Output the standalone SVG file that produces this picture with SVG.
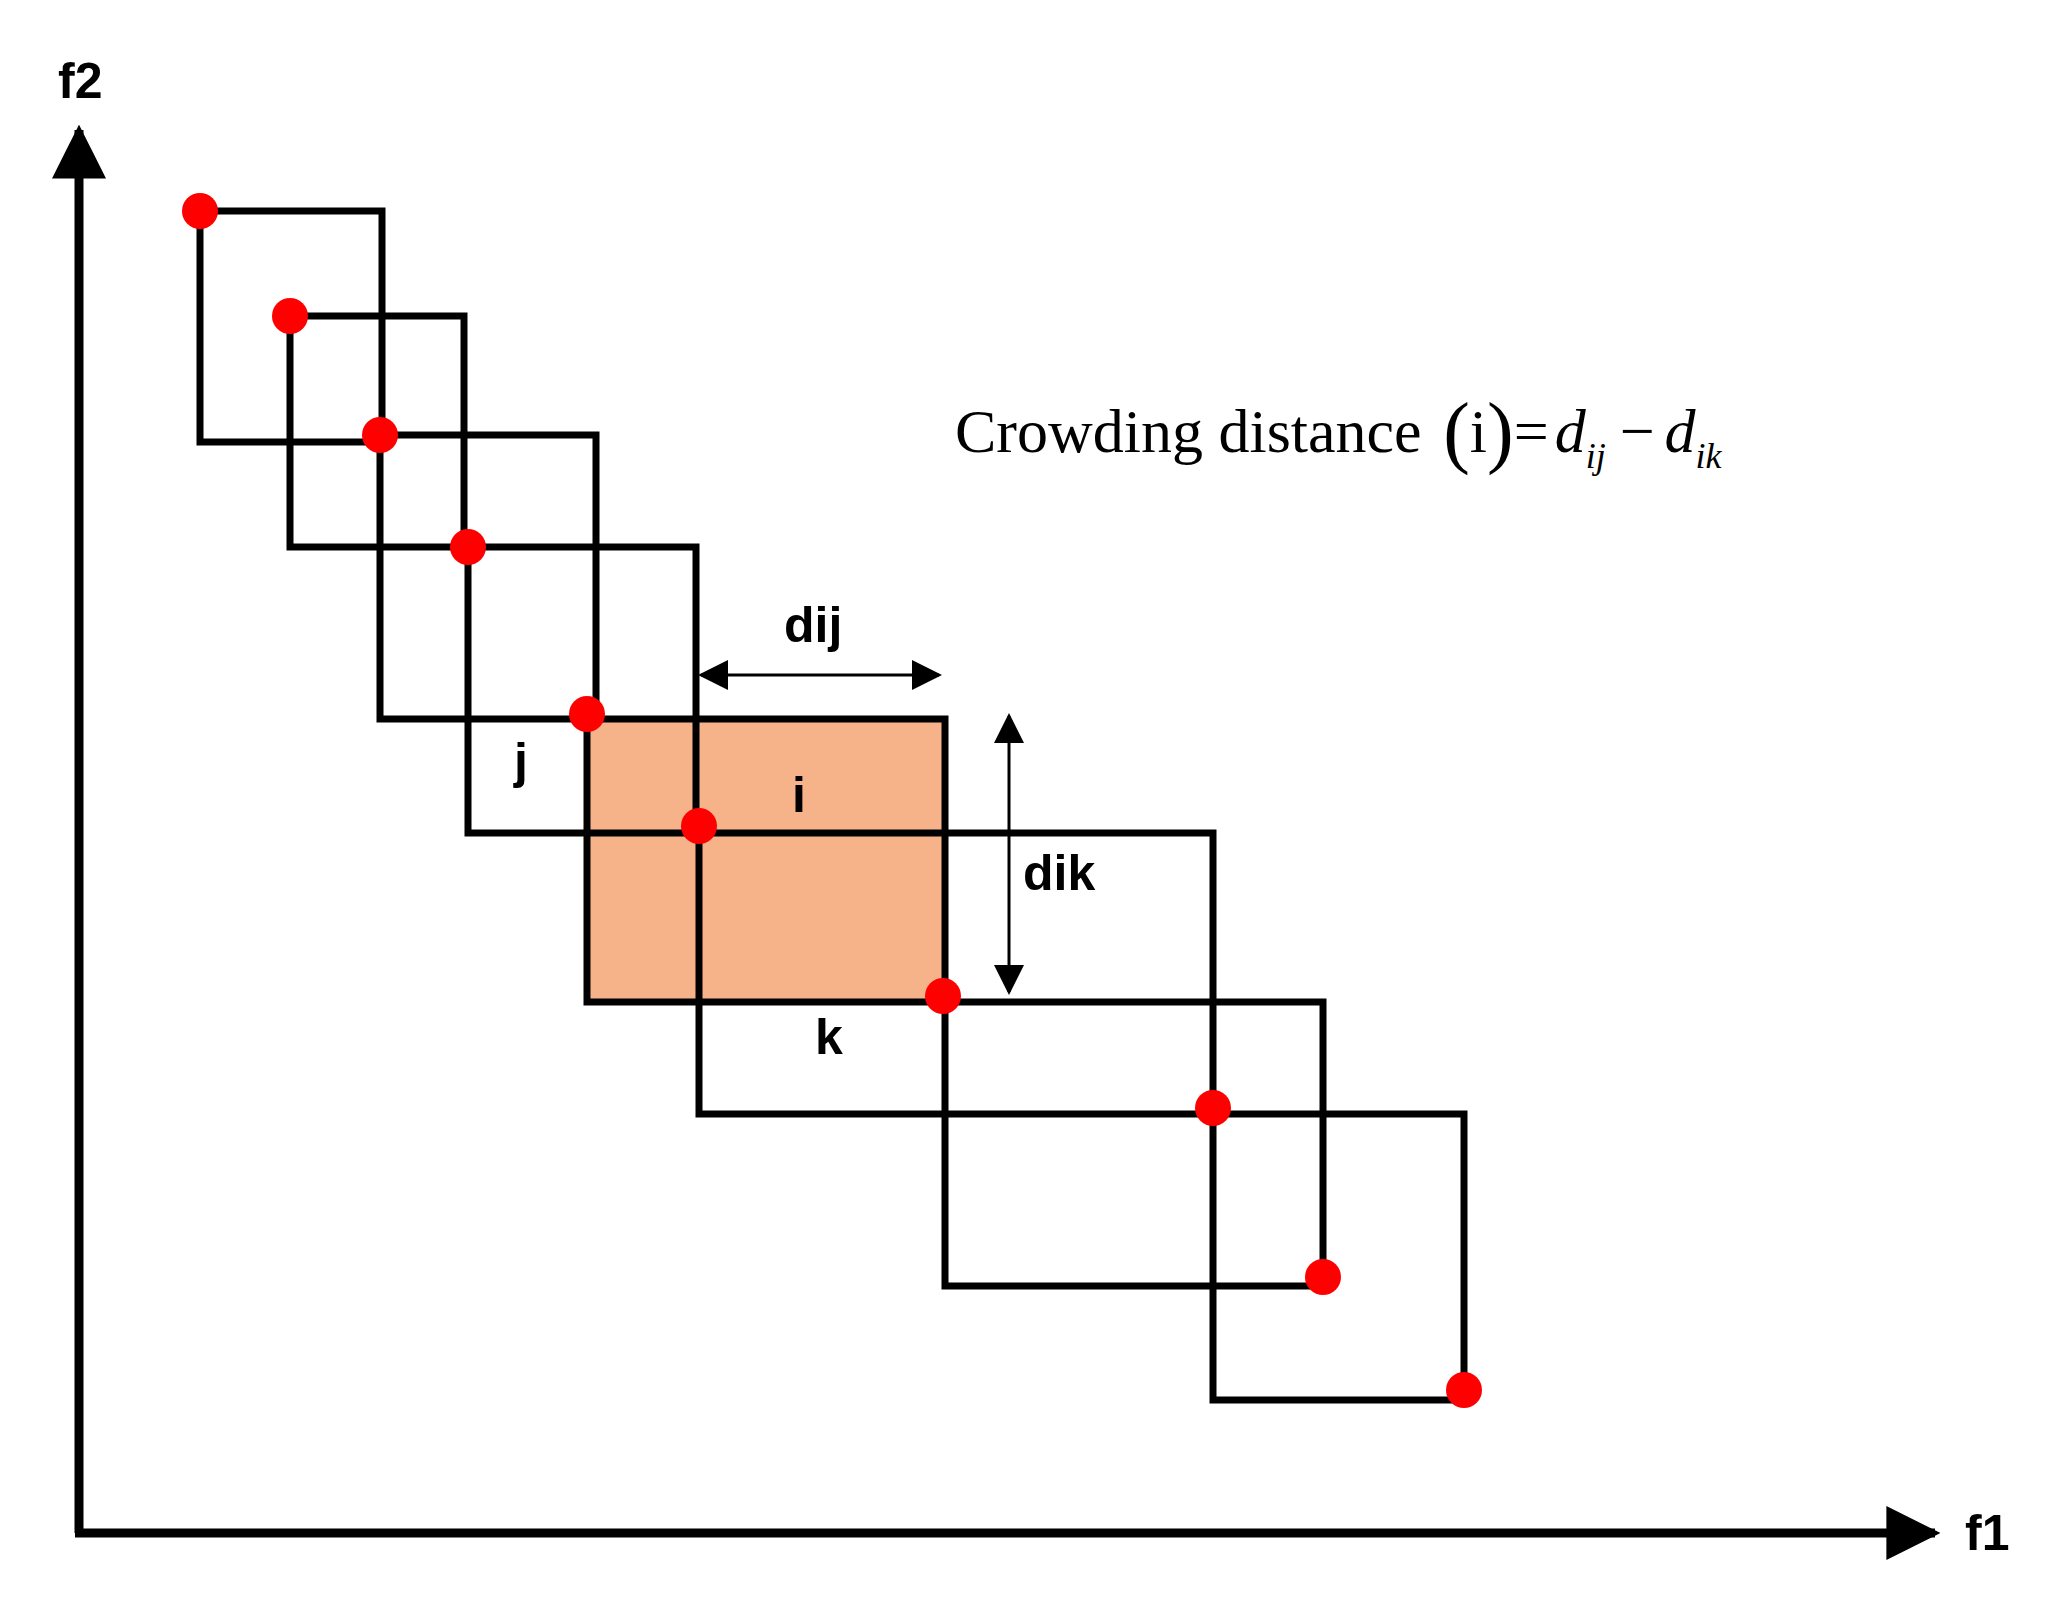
<svg xmlns="http://www.w3.org/2000/svg" width="2057" height="1606" viewBox="0 0 2057 1606">
<style>
.r{fill:none;stroke:#000;stroke-width:7}
.p{fill:#f00}
.lb{font-family:"Liberation Sans",Arial,sans-serif;font-weight:bold;font-size:50px;fill:#000}
.f{font-family:"Liberation Serif","Times New Roman",serif;font-size:62px;fill:#000}
.ax{stroke:#000;stroke-width:9;fill:none}
.ar{stroke:#000;stroke-width:3;fill:none}
</style>
<defs>
<marker id="ah" viewBox="0 0 10 10" refX="9" refY="5" markerWidth="6" markerHeight="6" orient="auto-start-reverse"><path d="M0,0L10,5L0,10z" fill="#000"/></marker>
<marker id="sa" viewBox="0 0 10 10" refX="9" refY="5" markerWidth="10" markerHeight="10" orient="auto-start-reverse"><path d="M0,0L10,5L0,10z" fill="#000"/></marker>
</defs>
<rect width="2057" height="1606" fill="#fff"/>
<g id="axes">
<line class="ax" x1="79" y1="1533" x2="79" y2="130" marker-end="url(#ah)"/>
<line class="ax" x1="75" y1="1533" x2="1935" y2="1533" marker-end="url(#ah)"/>
<text class="lb" x="58" y="98">f2</text>
<text class="lb" x="1965" y="1550">f1</text>
</g>
<g id="boxes">
<rect x="587" y="719" width="358" height="283" fill="#F6B38A" stroke="none"/>
<rect class="r" x="200" y="211" width="182" height="231"/>
<rect class="r" x="290" y="316" width="174" height="231"/>
<rect class="r" x="380" y="435" width="216" height="284"/>
<rect class="r" x="468" y="547" width="228" height="286"/>
<rect class="r" x="587" y="719" width="358" height="283"/>
<rect class="r" x="699" y="833" width="514" height="281"/>
<rect class="r" x="945" y="1002" width="378" height="284"/>
<rect class="r" x="1213" y="1114" width="251" height="286"/>
</g>
<g id="points">
<circle class="p" cx="200" cy="211" r="18"/>
<circle class="p" cx="290" cy="316" r="18"/>
<circle class="p" cx="380" cy="435" r="18"/>
<circle class="p" cx="468" cy="547" r="18"/>
<circle class="p" cx="587" cy="714" r="18"/>
<circle class="p" cx="699" cy="826" r="18"/>
<circle class="p" cx="943" cy="996" r="18"/>
<circle class="p" cx="1213" cy="1108" r="18"/>
<circle class="p" cx="1323" cy="1277" r="18"/>
<circle class="p" cx="1464" cy="1390" r="18"/>
</g>
<g id="connectors">
<line class="ar" x1="701" y1="675" x2="939" y2="675" marker-start="url(#sa)" marker-end="url(#sa)"/>
<line class="ar" x1="1009" y1="716" x2="1009" y2="992" marker-start="url(#sa)" marker-end="url(#sa)"/>
</g>
<g id="labels">
<text class="lb" x="784" y="642">dij</text>
<text class="lb" x="1023" y="890">dik</text>
<text class="lb" x="514" y="778">j</text>
<text class="lb" x="792" y="812">i</text>
<text class="lb" x="815" y="1054">k</text>
<text class="f" x="955" y="452">Crowding distance <tspan font-size="80" dx="6" dy="6">(</tspan><tspan dy="-6">i</tspan><tspan font-size="80" dy="6">)</tspan><tspan dy="-6">=</tspan><tspan font-style="italic" dx="6">d</tspan><tspan font-style="italic" font-size="36" dy="16">ij</tspan><tspan dx="14" dy="-16">−</tspan><tspan font-style="italic" dx="10">d</tspan><tspan font-style="italic" font-size="36" dy="16">ik</tspan></text>
</g>
</svg>
